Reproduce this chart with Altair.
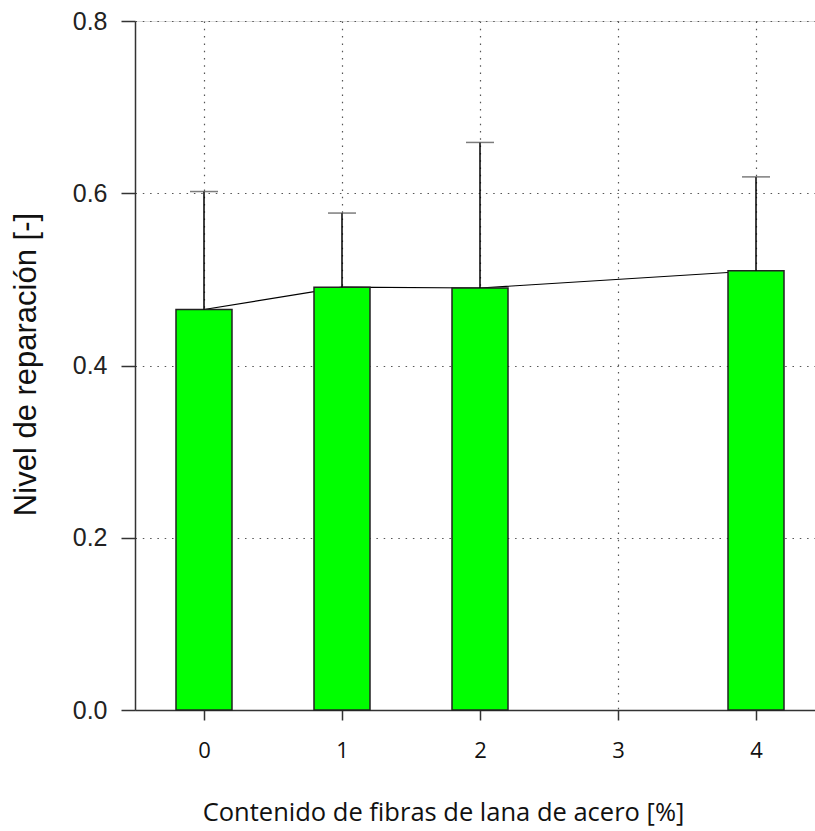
import altair as alt
import pandas as pd

contenido = [0, 1, 2, 4]
nivel = [0.465, 0.491, 0.490, 0.510]
nivel_sup = [0.602, 0.577, 0.659, 0.619]
x_ticks = [0, 1, 2, 3, 4]
y_ticks = [0.0, 0.2, 0.4, 0.6, 0.8]

df = pd.DataFrame({"x": contenido, "y": nivel, "up": nivel_sup})

xscale = alt.Scale(domain=[-0.5, 4.4275], nice=False, zero=False, padding=0)
yscale = alt.Scale(domain=[0, 0.8], nice=False)

xaxis = alt.Axis(
    values=x_ticks, format="d", title="Contenido de fibras de lana de acero [%]",
    grid=True, gridDash=[1.5, 5.8], gridColor="#555", gridWidth=1.2,
    tickSize=10, tickColor="#333", tickWidth=1.5,
    domainColor="#333", domainWidth=1.5,
    labelFont="Open Sans", labelFontSize=22, labelColor="#111",
    labelBaseline="middle", labelPadding=30,
    titleFont="Open Sans", titleFontSize=25.5, titleFontWeight="normal", titleColor="#111",
    titleX=308, titleY=102, titleAlign="center", titleBaseline="middle", titleAnchor="start",
)
yaxis = alt.Axis(
    values=y_ticks, format=".1f", title="Nivel de reparación [-]",
    grid=True, gridDash=[1.5, 5.8], gridColor="#555", gridWidth=1.2,
    tickSize=14, tickColor="#333", tickWidth=1.5,
    domainColor="#333", domainWidth=1.5,
    labelFont="Liberation Sans", labelFontSize=25, labelColor="#222", labelPadding=14,
    titleFont="Liberation Sans", titleFontSize=31, titleFontWeight="normal", titleColor="#111",
    titleX=-109, titleY=343, titleAngle=-90, titleAlign="center", titleBaseline="middle", titleAnchor="start",
)

base = alt.Chart(df)

line = base.mark_line(color="black", strokeWidth=1.2).encode(
    x=alt.X("x:Q", scale=xscale, axis=xaxis),
    y=alt.Y("y:Q", scale=yscale, axis=yaxis),
)
bars = base.mark_bar(size=56, color="#00ff00", stroke="#222", strokeWidth=1.5).encode(
    x=alt.X("x:Q", scale=xscale),
    y=alt.Y("y:Q", scale=yscale),
    y2=alt.datum(0),
)
err = base.mark_rule(color="black", strokeWidth=1.5).encode(
    x=alt.X("x:Q", scale=xscale),
    y=alt.Y("y:Q", scale=yscale),
    y2="up:Q",
)
caps = base.mark_tick(orient="horizontal", size=28, thickness=1.5, color="#444").encode(
    x=alt.X("x:Q", scale=xscale),
    y=alt.Y("up:Q", scale=yscale),
)

chart = alt.layer(line, bars, err, caps).properties(
    width=680, height=689,
    padding={"left": 135, "top": 21, "right": 0, "bottom": 121},
    autosize=alt.AutoSizeParams(type="none"),
).configure_view(stroke="#333", strokeWidth=1.5).configure(background="white")

chart.save("out.html", embed_options={"renderer": "svg", "actions": False})
